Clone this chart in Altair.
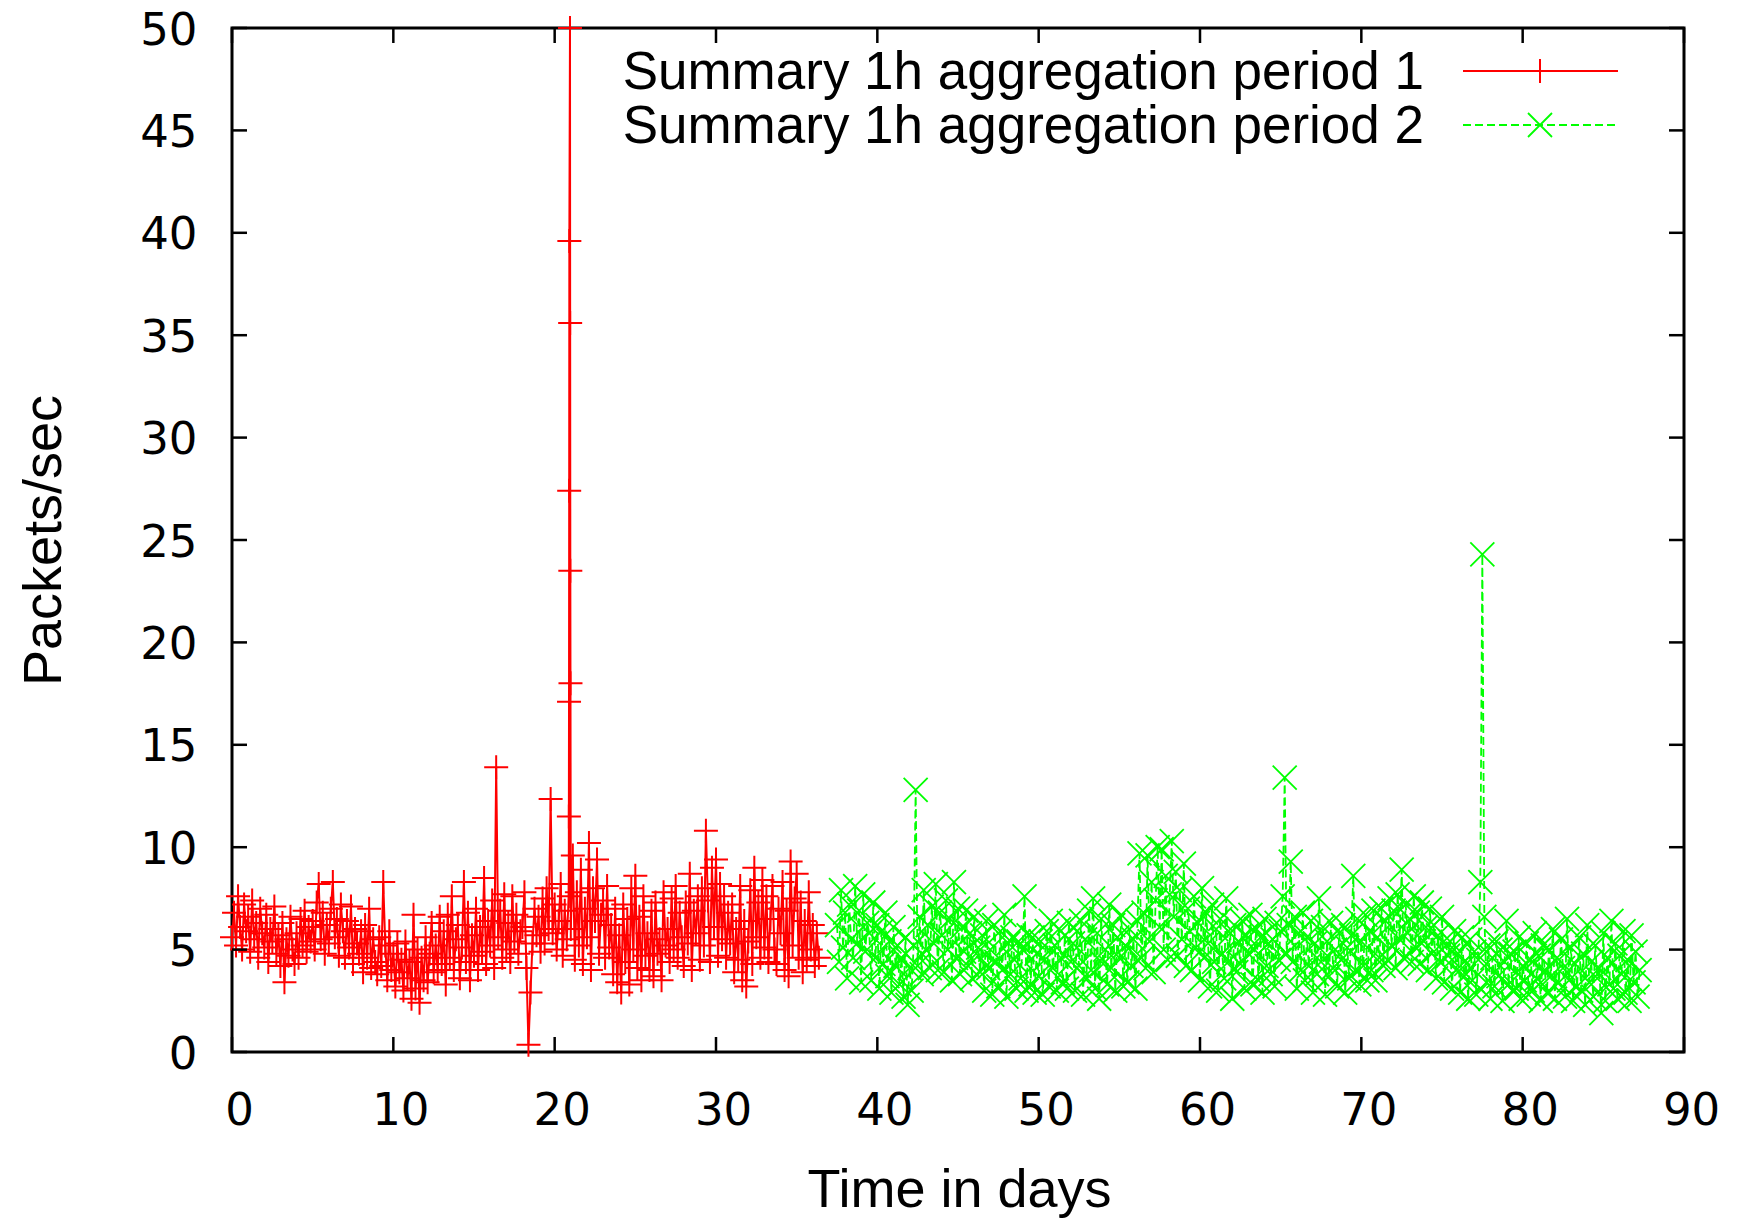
import altair as alt
import pandas as pd

series_names = ["Summary 1h aggregation period 1", "Summary 1h aggregation period 2"]
x_ticks = [0, 10, 20, 30, 40, 50, 60, 70, 80, 90]
y_ticks = [0, 5, 10, 15, 20, 25, 30, 35, 40, 45, 50]

step_days = 3 / 24  # one value every 3 hours

# period 1 (red), starts at day 0
red_start = 0.0
red_vals = [
    5.6, 6.8, 5.2, 7.6, 6.1, 5.0, 7.2, 5.9,
    6.6, 4.9, 7.4, 5.5, 6.3, 4.6, 7.0, 5.8,
    5.1, 6.7, 4.4, 6.0, 5.4, 7.1, 4.8, 5.7,
    4.2, 6.3, 3.4, 5.5, 4.7, 6.6, 5.0, 4.3,
    5.8, 4.6, 6.5, 5.2, 6.9, 4.9, 6.1, 5.4,
    6.4, 5.0, 7.3, 8.2, 5.5, 6.8, 4.8, 6.2,
    5.3, 7.0, 8.3, 5.6, 6.5, 4.7, 7.2, 5.9,
    4.6, 6.4, 5.1, 7.1, 4.3, 6.0, 5.3, 4.8,
    5.9, 3.9, 6.2, 4.6, 7.0, 4.1, 5.5, 4.4,
    3.8, 5.6, 4.2, 8.3, 5.2, 3.5, 5.9, 4.0,
    4.8, 3.2, 5.3, 3.9, 4.5, 3.0, 5.4, 3.6,
    4.4, 2.6, 6.7, 3.1, 5.0, 2.4, 4.6, 3.5,
    5.6, 3.4, 4.8, 6.3, 3.9, 5.2, 4.0, 6.6,
    4.3, 5.9, 3.3, 6.7, 4.6, 7.6, 4.0, 5.5,
    6.2, 3.6, 5.1, 8.3, 4.4, 6.8, 3.5, 5.7,
    4.7, 7.0, 4.0, 6.1, 4.9, 8.5, 4.3, 6.4,
    5.2, 7.4, 4.1, 13.9, 5.6, 6.9, 4.6, 7.7,
    5.0, 6.3, 4.4, 7.6, 5.4, 6.7, 4.8, 5.9,
    6.1, 7.8, 4.1, 0.35, 2.9, 5.3, 7.0, 5.7,
    6.6, 4.9, 7.5, 5.3, 8.0, 6.0, 12.35, 5.8,
    7.2, 5.0, 6.4, 8.2, 4.7, 6.9, 5.5, 7.6,
    6.0, 9.6, 4.5, 7.8, 5.2, 8.9, 4.3, 7.0,
    5.6, 10.2, 4.0, 8.0, 6.4, 9.4, 4.8, 6.7,
    7.4, 4.6, 8.1, 5.1, 6.2, 3.8, 7.0, 3.4,
    5.7, 2.9, 7.2, 4.4, 6.5, 3.3, 8.0, 5.0,
    8.6, 4.1, 6.6, 3.5, 7.6, 4.7, 5.8, 4.0,
    6.9, 3.7, 7.3, 4.8, 5.5, 3.5, 7.8, 5.2,
    6.0, 4.4, 7.5, 5.0, 8.1, 4.6, 6.8, 5.6,
    4.2, 7.3, 5.3, 8.7, 4.0, 6.9, 5.8, 7.6,
    4.5, 8.0, 5.2, 10.8, 7.4, 4.4, 9.0, 6.1,
    9.4, 4.7, 8.2, 5.5, 7.6, 4.6, 6.8, 5.3,
    7.2, 3.9, 6.0, 4.5, 8.1, 3.5, 6.4, 3.2,
    5.4, 7.9, 4.3, 9.0, 5.6, 7.3, 4.6, 8.4,
    5.1, 7.6, 4.4, 6.5, 8.1, 5.0, 4.3, 7.0,
    5.8, 8.3, 4.0, 6.9, 3.7, 9.3, 5.2, 7.5,
    8.7, 4.6, 7.3, 3.9, 6.4, 4.5, 7.8, 5.0,
    6.2, 4.2, 5.8, 4.6,
]
# the burst around day 20.9
red_spike_days = [20.88, 20.89, 20.90, 20.91, 20.95, 20.96, 20.97, 20.98]
red_spike_vals = [11.5, 17.1, 27.4, 39.6, 50.0, 35.6, 23.5, 18.0]

# period 2 (green), starts at day 37.5
green_start = 37.5
green_vals = [
    6.2, 4.4, 7.9, 5.1, 6.8, 3.6, 7.2, 5.5,
    4.6, 8.1, 5.3, 6.9, 3.4, 7.7, 4.9, 6.3,
    5.8, 3.5, 7.3, 4.6, 6.2, 3.1, 5.9, 4.3,
    6.8, 3.7, 5.4, 2.9, 6.1, 4.2, 5.2, 3.3,
    4.6, 2.7, 5.6, 2.3, 4.1, 3.0, 5.2, 12.8,
    4.2, 6.6, 3.8, 7.9, 5.0, 6.2, 4.1, 7.1,
    5.3, 8.2, 4.0, 6.8, 5.7, 3.9, 7.4, 5.0,
    6.5, 3.5, 8.3, 4.6, 7.0, 3.8, 6.1, 4.9,
    6.9, 4.2, 5.8, 3.6, 6.6, 4.8, 5.1, 3.9,
    5.7, 3.0, 6.4, 4.1, 5.0, 2.8, 6.2, 4.4,
    3.2, 5.9, 4.0, 6.7, 2.7, 5.3, 3.8, 5.6,
    4.5, 3.1, 5.4, 3.6, 5.0, 7.6, 3.0, 5.7,
    3.3, 5.6, 2.9, 4.8, 3.7, 5.4, 2.8, 4.5,
    5.9, 3.2, 6.4, 4.1, 5.2, 3.0, 6.0, 4.6,
    3.4, 5.7, 3.1, 6.3, 4.4, 5.3, 3.0, 5.9,
    4.2, 6.4, 2.8, 5.5, 3.6, 6.9, 4.0, 7.5,
    3.1, 5.8, 2.6, 6.5, 4.3, 5.0, 3.3, 7.2,
    4.1, 6.2, 3.0, 5.6, 4.6, 6.7, 3.2, 5.2,
    3.4, 6.0, 4.2, 5.5, 3.1, 6.4, 9.7, 4.6,
    6.8, 4.1, 9.6, 5.4, 8.3, 3.9, 7.4, 10.0,
    6.1, 9.9, 5.0, 8.6, 4.5, 7.7, 10.3, 6.6,
    8.8, 4.7, 7.9, 5.5, 9.2, 4.2, 7.0, 5.9,
    4.0, 7.6, 5.1, 6.3, 3.5, 8.0, 4.6, 6.8,
    5.3, 3.2, 7.2, 4.4, 6.0, 3.0, 6.5, 4.8,
    3.6, 7.5, 4.4, 5.8, 2.6, 6.2, 3.9, 5.4,
    4.3, 6.4, 3.1, 5.7, 4.8, 6.7, 3.3, 5.0,
    6.0, 3.5, 5.6, 2.9, 6.5, 4.2, 5.3, 3.8,
    5.5, 3.2, 6.3, 4.5, 5.9, 7.6, 13.4, 4.8,
    6.2, 9.3, 4.4, 6.6, 3.1, 5.8, 4.0, 6.8,
    3.5, 5.6, 4.2, 6.4, 2.9, 5.3, 3.8, 7.5,
    4.4, 6.1, 2.8, 5.4, 3.7, 6.3, 4.1, 5.0,
    3.2, 5.8, 4.5, 6.2, 2.9, 5.1, 3.6, 5.7,
    8.6, 4.0, 6.5, 3.3, 5.4, 4.2, 6.7, 3.5,
    5.9, 4.0, 6.9, 3.5, 5.6, 4.6, 7.0, 4.2,
    6.4, 4.5, 7.5, 5.2, 6.9, 4.1, 7.7, 5.5,
    8.9, 4.6, 7.2, 5.8, 6.5, 4.4, 7.6, 5.1,
    6.8, 4.3, 7.3, 5.4, 6.1, 4.0, 7.0, 4.8,
    6.2, 3.6, 5.7, 4.4, 6.6, 3.4, 5.2, 4.7,
    5.4, 3.1, 5.9, 4.0, 4.8, 2.9, 5.6, 3.7,
    4.3, 2.6, 5.5, 3.5, 4.9, 2.8, 4.5, 8.3,
    24.3, 6.6, 3.4, 5.2, 2.6, 4.6, 3.2, 5.4,
    3.7, 5.0, 2.5, 4.4, 6.4, 3.3, 4.8, 3.0,
    4.9, 3.1, 5.6, 2.6, 4.2, 3.5, 5.3, 2.8,
    4.5, 3.0, 5.8, 3.6, 4.7, 2.5, 5.2, 3.9,
    2.9, 5.0, 3.7, 6.0, 2.6, 4.6, 3.4, 5.5,
    4.1, 2.7, 6.5, 3.5, 5.1, 2.5, 4.3, 3.2,
    5.6, 3.0, 4.8, 2.3, 6.2, 3.4, 4.4, 2.7,
    5.2, 3.6, 4.1, 1.9, 5.8, 2.5, 4.6, 3.3,
    6.4, 3.1, 5.3, 2.6, 4.7, 3.8, 5.9, 2.9,
    4.5, 2.5, 5.7, 3.4, 4.9, 2.7, 4.0,
]

red_df = pd.DataFrame({
    "day": [red_start + i * step_days for i in range(len(red_vals))] + red_spike_days,
    "pps": red_vals + red_spike_vals,
}).sort_values("day").reset_index(drop=True)
green_df = pd.DataFrame({
    "day": [green_start + i * step_days for i in range(len(green_vals))],
    "pps": green_vals,
})

W, H = 1452, 1024
RED = "#ff0000"
GREEN = "#00ff00"
PLUS = "M-1,0L1,0M0,-1L0,1"
XSHAPE = "M-1,-1L1,1M-1,1L1,-1"
MSIZE = 576
TICK = 15
RED_W = 2.0
GREEN_W = 1.8

xscale = alt.Scale(domain=[0, 90], nice=False, zero=False)
yscale = alt.Scale(domain=[0, 50], nice=False, zero=False)

xaxis = alt.Axis(
    title="Time in days", values=x_ticks, ticks=False, tickSize=0, domain=False, grid=False,
    labelFont="DejaVu Sans", labelFontSize=45, labelColor="black", labelPadding=36,
    labelOffset=7, labelFlush=False, labelOverlap=False,
    titleFont="Liberation Sans", titleFontSize=54, titleFontWeight="normal", titleColor="black",
    titleX=727, titleY=154, titleBaseline="alphabetic", titleAlign="center",
)
yaxis = alt.Axis(
    title="Packets/sec", values=y_ticks, ticks=False, tickSize=0, domain=False, grid=False,
    labelFont="DejaVu Sans", labelFontSize=45, labelColor="black", labelPadding=35,
    labelOffset=2, labelFlush=False, labelOverlap=False, labelBaseline="middle",
    titleFont="Liberation Sans", titleFontSize=54, titleFontWeight="normal", titleColor="black",
    titleAngle=270, titleX=-188, titleY=512, titleBaseline="middle", titleAlign="center",
)

X = alt.X("day:Q", scale=xscale, axis=xaxis)
Y = alt.Y("pps:Q", scale=yscale, axis=yaxis)

red_line = alt.Chart(red_df).mark_line(color=RED, strokeWidth=RED_W).encode(x=X, y=Y)
red_pts = alt.Chart(red_df).mark_point(
    shape=PLUS, size=MSIZE, filled=False, color=RED, strokeWidth=RED_W, opacity=1
).encode(x=X, y=Y)
green_line = alt.Chart(green_df).mark_line(
    color=GREEN, strokeWidth=GREEN_W, strokeDash=[8, 4]
).encode(x=X, y=Y)
green_pts = alt.Chart(green_df).mark_point(
    shape=XSHAPE, size=MSIZE, filled=False, color=GREEN, strokeWidth=GREEN_W, opacity=1
).encode(x=X, y=Y)

# inward (mirrored) tick marks, gnuplot style
xt = pd.DataFrame({"v": x_ticks})
yt = pd.DataFrame({"v": y_ticks})
XT = alt.X("v:Q", scale=xscale, axis=xaxis)
YT = alt.Y("v:Q", scale=yscale, axis=yaxis)
tick_style = dict(color="black", strokeWidth=2.5)
ticks_bottom = alt.Chart(xt).mark_rule(**tick_style).encode(x=XT, y=alt.value(H), y2=alt.value(H - TICK))
ticks_top = alt.Chart(xt).mark_rule(**tick_style).encode(x=XT, y=alt.value(0), y2=alt.value(TICK))
ticks_left = alt.Chart(yt).mark_rule(**tick_style).encode(y=YT, x=alt.value(0), x2=alt.value(TICK))
ticks_right = alt.Chart(yt).mark_rule(**tick_style).encode(y=YT, x=alt.value(W), x2=alt.value(W - TICK))

# key (top right, gnuplot style: text then line sample with marker)
one = pd.DataFrame({"k": [0]})
key_layers = []
key_rows = [(series_names[0], RED, PLUS, None, 43, RED_W), (series_names[1], GREEN, XSHAPE, [8, 4], 97, GREEN_W)]
for name, col, shp, dash, yy, sw in key_rows:
    key_layers.append(
        alt.Chart(pd.DataFrame({"label": [name]})).mark_text(
            align="right", baseline="middle", font="Liberation Sans", fontSize=53, color="black"
        ).encode(text="label:N", x=alt.value(1192), y=alt.value(yy + 2))
    )
    rule_kw = dict(color=col, strokeWidth=sw)
    if dash:
        rule_kw["strokeDash"] = dash
    key_layers.append(
        alt.Chart(one).mark_rule(**rule_kw).encode(x=alt.value(1231), x2=alt.value(1386), y=alt.value(yy))
    )
    key_layers.append(
        alt.Chart(one).mark_point(
            shape=shp, size=MSIZE, filled=False, color=col, strokeWidth=sw, opacity=1
        ).encode(x=alt.value(1308), y=alt.value(yy))
    )

chart = alt.layer(
    red_line, red_pts, green_line, green_pts,
    ticks_bottom, ticks_top, ticks_left, ticks_right,
    *key_layers,
).properties(
    width=W, height=H,
    autosize=alt.AutoSizeParams(type="none"),
    padding={"left": 232, "top": 28, "right": 54, "bottom": 168},
    background="white",
).configure_view(stroke="black", strokeWidth=3)

chart.save("out.html", embed_options={"renderer": "svg", "actions": False})
